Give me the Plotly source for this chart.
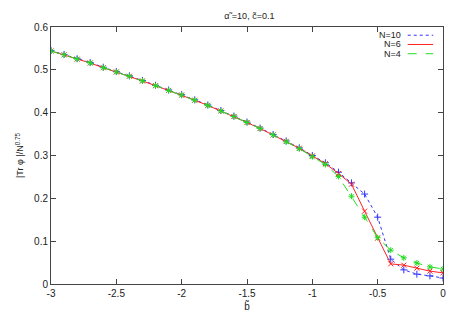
import plotly.graph_objects as go

# b-tilde values, step 0.1 from -3 to 0
b_vals = [-3.0, -2.9, -2.8, -2.7, -2.6, -2.5, -2.4, -2.3, -2.2, -2.1,
          -2.0, -1.9, -1.8, -1.7, -1.6, -1.5, -1.4, -1.3, -1.2, -1.1,
          -1.0, -0.9, -0.8, -0.7, -0.6, -0.5, -0.4, -0.3, -0.2, -0.1, 0.0]

tr_n10 = [0.545, 0.536, 0.526, 0.517, 0.506, 0.496, 0.486, 0.475, 0.464, 0.453,
          0.442, 0.430, 0.418, 0.405, 0.392, 0.378, 0.364, 0.349, 0.334, 0.318,
          0.300, 0.283, 0.261, 0.236, 0.210, 0.156, 0.058, 0.033, 0.023, 0.019, 0.014]

tr_n6 = [0.544, 0.535, 0.525, 0.516, 0.505, 0.495, 0.485, 0.474, 0.463, 0.452,
         0.441, 0.429, 0.417, 0.404, 0.391, 0.377, 0.363, 0.348, 0.333, 0.317,
         0.299, 0.281, 0.258, 0.233, 0.170, 0.107, 0.047, 0.044, 0.037, 0.030, 0.026]

tr_n4 = [0.544, 0.535, 0.525, 0.516, 0.505, 0.495, 0.485, 0.474, 0.463, 0.452,
         0.441, 0.429, 0.417, 0.404, 0.391, 0.377, 0.363, 0.348, 0.332, 0.316,
         0.297, 0.279, 0.251, 0.205, 0.156, 0.108, 0.079, 0.061, 0.049, 0.040, 0.035]

x_ticks = [-3, -2.5, -2, -1.5, -1, -0.5, 0]
x_ticklabels = ["-3", "-2.5", "-2", "-1.5", "-1", "-0.5", "0"]
y_ticks = [0, 0.1, 0.2, 0.3, 0.4, 0.5, 0.6]
y_ticklabels = ["0", "0.1", "0.2", "0.3", "0.4", "0.5", "0.6"]

series = [
    ("N=10", tr_n10, "#3333ff", "dot", "cross-thin-open"),
    ("N=6", tr_n6, "#ff2222", "solid", "x-thin-open"),
    ("N=4", tr_n4, "#22dd22", "dash", "asterisk-open"),
]

FONT = "Liberation Sans, Arial, sans-serif"

fig = go.Figure()
for name, vals, color, dash, symbol in series:
    fig.add_trace(go.Scatter(
        x=b_vals, y=vals, name=name, mode="lines+markers",
        line=dict(color=color, width=1, dash=dash),
        marker=dict(symbol=symbol, size=5, color=color,
                    line=dict(color=color, width=1)),
    ))

# gnuplot-style legend (text right, sample line after it)
for i, (name, vals, color, dash, symbol) in enumerate(series):
    yy = 0.968 - i * 0.036
    fig.add_annotation(x=0.895, y=yy, xref="paper", yref="paper",
                       text=name, showarrow=False, xanchor="right",
                       yanchor="middle", borderpad=0,
                       font=dict(size=9, color="#222", family=FONT))
    fig.add_shape(type="line", xref="paper", yref="paper",
                  x0=0.91, x1=0.975, y0=yy, y1=yy,
                  line=dict(color=color, width=1, dash=dash))

# the page body adds an 8px margin, so the figure is a bit smaller
fig.update_layout(
    width=451, height=314,
    margin=dict(l=35, r=16, t=19, b=38),
    paper_bgcolor="white", plot_bgcolor="white",
    showlegend=False,
    font=dict(family=FONT, size=10, color="#222"),
    title=dict(text="α\u0303 =10, c\u0303=0.1", x=0.535, xanchor="center",
               y=0.975, yanchor="middle", font=dict(size=9, family=FONT)),
    xaxis=dict(range=[-3, 0], tickvals=x_ticks, ticktext=x_ticklabels,
               showline=True, mirror="ticks", linecolor="#444", linewidth=1,
               ticks="inside", ticklen=5, tickcolor="#444",
               showgrid=False, zeroline=False,
               title=dict(text="b\u0303", standoff=4, font=dict(size=10))),
    yaxis=dict(range=[0, 0.6], tickvals=y_ticks, ticktext=y_ticklabels,
               showline=True, mirror="ticks", linecolor="#444", linewidth=1,
               ticks="inside", ticklen=5, tickcolor="#444",
               showgrid=False, zeroline=False,
               title=dict(text="|Tr φ |/N<sup>0.75</sup>", standoff=8,
                          font=dict(size=9))),
)

fig.write_html("out.html")
